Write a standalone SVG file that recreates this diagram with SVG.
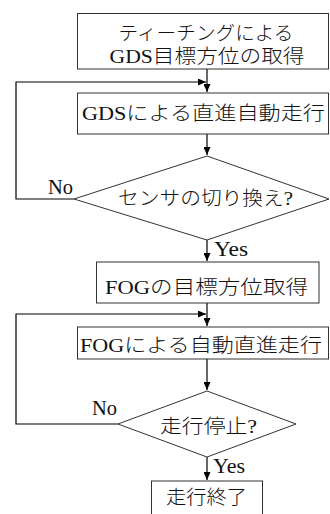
<svg xmlns="http://www.w3.org/2000/svg" width="330" height="514" viewBox="0 0 330 514">
<defs>
<marker id="ah" markerUnits="userSpaceOnUse" markerWidth="8" markerHeight="7" refX="8" refY="3.5" orient="auto">
<path d="M0,0 L8,3.5 L0,7 z" fill="#000"/>
</marker>
<style>
.box{fill:#fff;stroke:#333;stroke-width:1}
.t{font-family:"Liberation Serif","Noto Sans CJK JP",serif;font-size:19px;font-weight:300;fill:#111;text-anchor:middle}
.l{font-family:"Liberation Serif",serif;font-size:20px;fill:#111}
.c{fill:none;stroke:#000;stroke-width:1.2}
</style>
</defs>
<rect width="330" height="514" fill="#fff"/>
<g id="connectors">
<path class="c" d="M207,69 V92" marker-end="url(#ah)"/>
<path class="c" d="M74,199 H16 V82 H206" marker-end="url(#ah)"/>
<path class="c" d="M207,134 V155" marker-end="url(#ah)"/>
<path class="c" d="M207,240 V261" marker-end="url(#ah)"/>
<path class="c" d="M207,303 V326" marker-end="url(#ah)"/>
<path class="c" d="M118,424 H16 V314 H206" marker-end="url(#ah)"/>
<path class="c" d="M207,359 V390" marker-end="url(#ah)"/>
<path class="c" d="M207,457 V480" marker-end="url(#ah)"/>
<text class="l" x="48" y="194" textLength="25" lengthAdjust="spacingAndGlyphs">No</text>
<text class="l" x="214" y="256" textLength="34" lengthAdjust="spacingAndGlyphs">Yes</text>
<text class="l" x="92" y="415" textLength="25" lengthAdjust="spacingAndGlyphs">No</text>
<text class="l" x="213" y="473" textLength="32" lengthAdjust="spacingAndGlyphs">Yes</text>
</g>
<g id="n1">
<rect class="box" x="77.5" y="13.5" width="251" height="55.5"/>
<text class="t" x="206" y="40" textLength="175" lengthAdjust="spacingAndGlyphs">ティーチングによる</text>
<text class="t" x="207" y="63" textLength="195" lengthAdjust="spacingAndGlyphs">GDS目標方位の取得</text>
</g>
<g id="n2">
<rect class="box" x="77.5" y="93" width="251" height="41"/>
<text class="t" x="203.5" y="120" textLength="243" lengthAdjust="spacingAndGlyphs">GDSによる直進自動走行</text>
</g>
<g id="n3">
<polygon class="box" points="207,156 329,199 207,240 74,199"/>
<text class="t" x="205.5" y="205" textLength="175" lengthAdjust="spacingAndGlyphs">センサの切り換え?</text>
</g>
<g id="n4">
<rect class="box" x="96.5" y="262" width="222.5" height="41"/>
<text class="t" x="206.5" y="294" textLength="203" lengthAdjust="spacingAndGlyphs">FOGの目標方位取得</text>
</g>
<g id="n5">
<rect class="box" x="77.5" y="327" width="251" height="32"/>
<text class="t" x="201" y="352" textLength="242" lengthAdjust="spacingAndGlyphs">FOGによる自動直進走行</text>
</g>
<g id="n6">
<polygon class="box" points="207,391 296,424 207,457 118,424"/>
<text class="t" x="208.5" y="433" textLength="97" lengthAdjust="spacingAndGlyphs">走行停止?</text>
</g>
<g id="n7">
<rect class="box" x="151.5" y="481" width="111" height="40"/>
<text class="t" x="206.5" y="504" textLength="81" lengthAdjust="spacingAndGlyphs">走行終了</text>
</g>
</svg>
